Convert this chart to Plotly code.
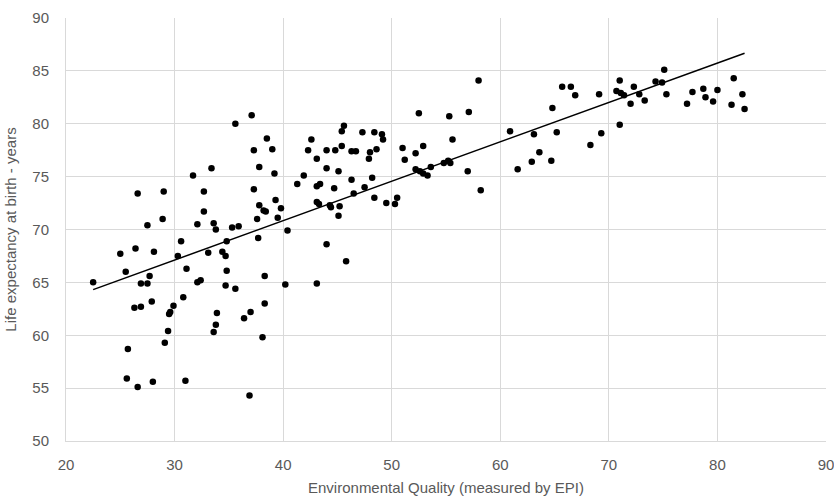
import numpy as np
import plotly.graph_objects as go

# Environmental Performance Index score per country
epi = [
    22.5, 25.0, 25.5, 25.7, 25.6, 26.4, 26.6, 26.6, 26.3, 26.9,
    26.9, 27.5, 27.5, 27.7, 27.9, 28.0, 28.1, 28.9, 29.0, 29.1,
    29.4, 29.5, 29.6, 29.9, 30.3, 30.6, 30.8, 31.0, 31.1, 31.7,
    32.1, 32.1, 32.4, 32.7, 32.7, 33.1, 33.4, 33.6, 33.8, 33.6,
    33.8, 33.9, 34.4, 34.7, 34.8, 34.8, 34.7, 35.3, 35.6, 35.6,
    35.9, 36.4, 37.0, 36.9, 37.1, 37.3, 37.3, 37.6, 37.7, 37.8,
    37.8, 38.1, 38.2, 38.3, 38.3, 38.4, 38.5, 39.0, 39.2, 39.3,
    39.5, 39.8, 40.2, 40.4, 41.3, 41.9, 42.3, 42.6, 43.1, 43.1,
    43.4, 43.1, 43.1, 43.3, 44.0, 44.0, 44.0, 44.3, 44.4, 44.7,
    44.8, 45.1, 45.1, 45.2, 45.4, 45.4, 45.6, 45.8, 46.3, 46.3,
    46.5, 46.7, 47.3, 47.5, 47.9, 48.0, 48.2, 48.4, 48.4, 48.6,
    49.1, 49.2, 49.5, 50.3, 50.5, 51.0, 51.2, 52.2, 52.2, 52.5,
    52.6, 52.9, 52.9, 53.3, 53.6, 54.8, 55.2, 55.3, 55.4, 55.6,
    57.0, 57.1, 58.0, 58.2, 60.9, 61.6, 62.9, 63.1, 63.6, 64.7,
    64.8, 65.2, 65.7, 66.5, 66.9, 68.3, 69.1, 69.3, 70.7, 71.0,
    71.0, 71.1, 71.4, 72.0, 72.3, 72.8, 73.3, 74.3, 74.9, 75.1,
    75.3, 77.2, 77.7, 78.7, 78.9, 79.6, 80.0, 81.3, 81.5, 82.3,
    82.5,
]

# Life expectancy at birth (years) for the same countries
life_exp = [
    65.0, 67.7, 66.0, 58.7, 55.9, 68.2, 73.4, 55.1, 62.6, 62.7,
    64.9, 64.9, 70.4, 65.6, 63.2, 55.6, 67.9, 71.0, 73.6, 59.3,
    60.4, 62.0, 62.2, 62.8, 67.5, 68.9, 63.6, 55.7, 66.3, 75.1,
    65.0, 70.5, 65.2, 71.7, 73.6, 67.8, 75.8, 70.6, 70.0, 60.3,
    61.0, 62.1, 67.9, 67.5, 68.9, 66.1, 64.7, 70.2, 64.4, 80.0,
    70.3, 61.6, 62.2, 54.3, 80.8, 77.5, 73.8, 71.0, 69.2, 75.9,
    72.3, 59.8, 71.8, 65.6, 63.0, 71.7, 78.6, 77.6, 75.3, 72.8,
    71.1, 72.0, 64.8, 69.9, 74.3, 75.1, 77.5, 78.5, 76.7, 74.1,
    74.3, 72.6, 64.9, 72.4, 77.5, 75.8, 68.6, 72.3, 72.1, 73.9,
    77.5, 75.5, 71.3, 72.2, 77.9, 79.3, 79.8, 67.0, 77.4, 74.7,
    73.4, 77.4, 79.2, 74.0, 76.7, 77.3, 74.9, 79.2, 73.0, 77.6,
    79.0, 78.5, 72.5, 72.4, 73.0, 77.7, 76.6, 77.2, 75.7, 81.0,
    75.5, 77.9, 75.3, 75.1, 75.9, 76.3, 76.5, 80.7, 76.3, 78.5,
    75.5, 81.1, 84.1, 73.7, 79.3, 75.7, 76.4, 79.0, 77.3, 76.5,
    81.5, 79.2, 83.5, 83.5, 82.7, 78.0, 82.8, 79.1, 83.1, 84.1,
    79.9, 82.9, 82.7, 81.9, 83.5, 82.8, 82.2, 84.0, 83.9, 85.1,
    82.8, 81.9, 83.0, 83.3, 82.5, 82.1, 83.2, 81.8, 84.3, 82.8,
    81.4,
]

x_ticks = [20, 30, 40, 50, 60, 70, 80, 90]
y_ticks = [50, 55, 60, 65, 70, 75, 80, 85, 90]

# Least-squares linear trendline across the observed EPI range
slope, intercept = np.polyfit(epi, life_exp, 1)
trend_x = [min(epi), max(epi)]
trend_y = [slope * v + intercept for v in trend_x]

label_font = dict(family="Liberation Sans", size=15, color="#595959")
grid_col = "#d9d9d9"

fig = go.Figure()
fig.add_trace(go.Scatter(
    x=epi, y=life_exp, mode="markers",
    marker=dict(color="black", size=6.5, line=dict(width=0)),
    showlegend=False, hoverinfo="x+y",
))
fig.add_trace(go.Scatter(
    x=trend_x, y=trend_y, mode="lines",
    line=dict(color="black", width=1.5),
    showlegend=False, hoverinfo="skip",
))

fig.update_layout(
    width=834, height=496,
    margin=dict(l=66, r=8, t=18, b=55, autoexpand=False),
    paper_bgcolor="white", plot_bgcolor="white",
    font=label_font,
)
fig.update_xaxes(
    range=[20, 90], tickvals=x_ticks, ticktext=[str(v) for v in x_ticks],
    showgrid=True, gridcolor=grid_col, gridwidth=1,
    showline=True, linecolor=grid_col, linewidth=1,
    zeroline=False, ticks="", tickfont=label_font, ticklabelstandoff=10,
    ticklabeloverflow="allow", automargin=False,
    title=dict(text="Environmental Quality (measured by EPI)",
               font=label_font, standoff=11),
)
fig.update_yaxes(
    range=[50, 90], tickvals=y_ticks, ticktext=[str(v) for v in y_ticks],
    showgrid=True, gridcolor=grid_col, gridwidth=1,
    showline=True, linecolor=grid_col, linewidth=1,
    zeroline=False, ticks="", tickfont=label_font, ticklabelstandoff=13,
    automargin=False,
    title=dict(text="Life expectancy at birth - years",
               font=label_font, standoff=12),
)

fig.write_html("out.html")
